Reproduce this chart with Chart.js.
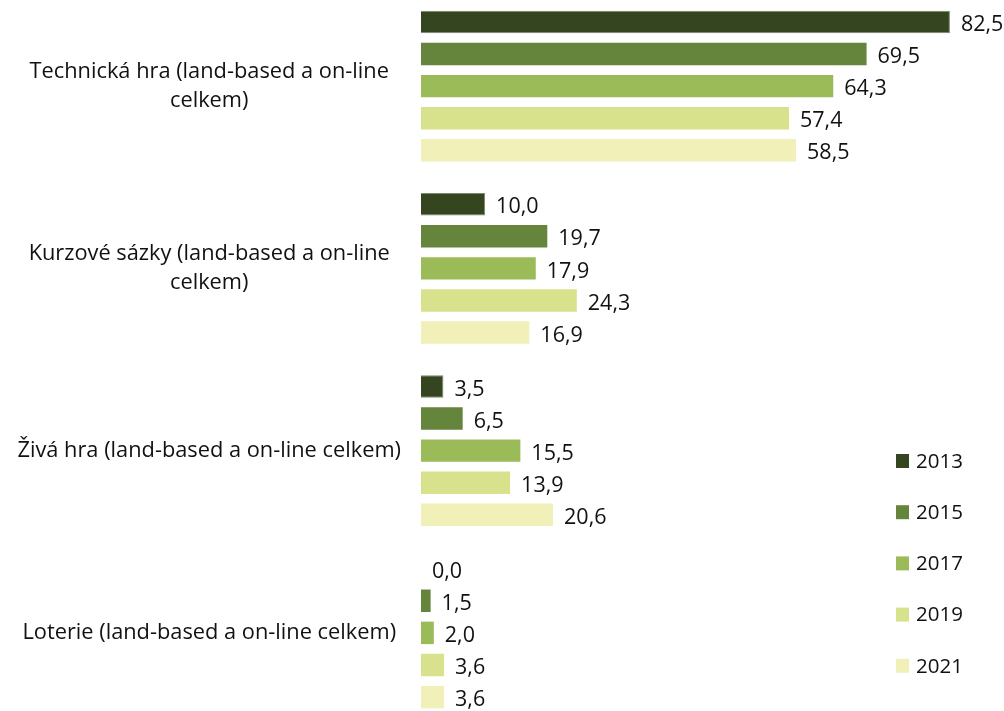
<!DOCTYPE html>
<html lang="cs">
<head>
  <meta charset="UTF-8">
  <title>Hazardní hry</title>
  <script src="https://cdn.jsdelivr.net/npm/chart.js@4.4.2/dist/chart.umd.min.js"></script>
  <style>
    html, body { margin: 0; padding: 0; background: #fff; overflow: hidden; }
    #wrap { position: absolute; left: 0; top: -5px; width: 1004px; height: 729px; }
  </style>
</head>
<body>
  <div id="wrap"><canvas id="chart"></canvas></div>

  <script>
    const categories = [
      ['Technická hra (land-based a on-line', 'celkem)'],
      ['Kurzové sázky (land-based a on-line', 'celkem)'],
      'Živá hra (land-based a on-line celkem)',
      'Loterie (land-based a on-line celkem)'
    ];
    const years = ['2013', '2015', '2017', '2019', '2021'];
    const v2013 = [82.5, 10.0, 3.5, 0.0];
    const v2015 = [69.5, 19.7, 6.5, 1.5];
    const v2017 = [64.3, 17.9, 15.5, 2.0];
    const v2019 = [57.4, 24.3, 13.9, 3.6];
    const v2021 = [58.5, 16.9, 20.6, 3.6];
    const colors = ['#344520', '#66853c', '#9bbb59', '#d8e18c', '#f0f0b8'];

    const series = [v2013, v2015, v2017, v2019, v2021];
    const FONT = '"Open Sans", "DejaVu Sans", sans-serif';

    // hodnoty za koncem sloupce, desetinná čárka
    const valueLabels = {
      id: 'valueLabels',
      afterDatasetsDraw(chart) {
        const ctx = chart.ctx;
        ctx.save();
        ctx.font = '21.5px ' + FONT;
        ctx.fillStyle = '#111';
        ctx.textAlign = 'left';
        ctx.textBaseline = 'middle';
        chart.data.datasets.forEach((ds, i) => {
          chart.getDatasetMeta(i).data.forEach((bar, j) => {
            const txt = ds.data[j].toFixed(1).replace('.', ',');
            ctx.fillText(txt, bar.x + 11, bar.y + 3);
          });
        });
        ctx.restore();
      }
    };

    // legenda vpravo dole
    const sideLegend = {
      id: 'sideLegend',
      afterDraw(chart) {
        const ctx = chart.ctx;
        ctx.save();
        ctx.font = '20.5px ' + FONT;
        ctx.textAlign = 'left';
        ctx.textBaseline = 'middle';
        chart.data.datasets.forEach((ds, i) => {
          const y = 466 + i * 51.2;
          ctx.fillStyle = ds.backgroundColor;
          ctx.fillRect(896, y - 7, 13, 14);
          ctx.fillStyle = '#111';
          ctx.fillText(ds.label, 916, y + 1);
        });
        ctx.restore();
      }
    };

    new Chart(document.getElementById('chart'), {
      type: 'bar',
      data: {
        labels: categories,
        datasets: years.map((y, i) => ({
          label: y,
          data: series[i],
          backgroundColor: colors[i],
          borderColor: i === 0 ? '#7d8670' : colors[i],
          borderWidth: i === 0 ? 1 : 0,
          categoryPercentage: 0.881,
          barPercentage: 0.70
        }))
      },
      options: {
        indexAxis: 'y',
        responsive: true,
        maintainAspectRatio: false,
        animation: false,
        layout: { padding: { left: 0, right: 6, top: 0, bottom: 0 } },
        plugins: {
          legend: { display: false },
          tooltip: { enabled: false }
        },
        scales: {
          x: {
            display: false,
            min: 0,
            max: 90
          },
          y: {
            grid: { display: false, drawTicks: false },
            border: { display: false },
            ticks: {
              crossAlign: 'center',
              padding: 20,
              color: '#111',
              font: { family: FONT, size: 21.8, lineHeight: 1.33 }
            },
            afterFit(scale) {
              scale.width = 421;
              scale.paddingTop = 0;
              scale.paddingBottom = 0;
            }
          }
        }
      },
      plugins: [valueLabels, sideLegend]
    });
  </script>
</body>
</html>
